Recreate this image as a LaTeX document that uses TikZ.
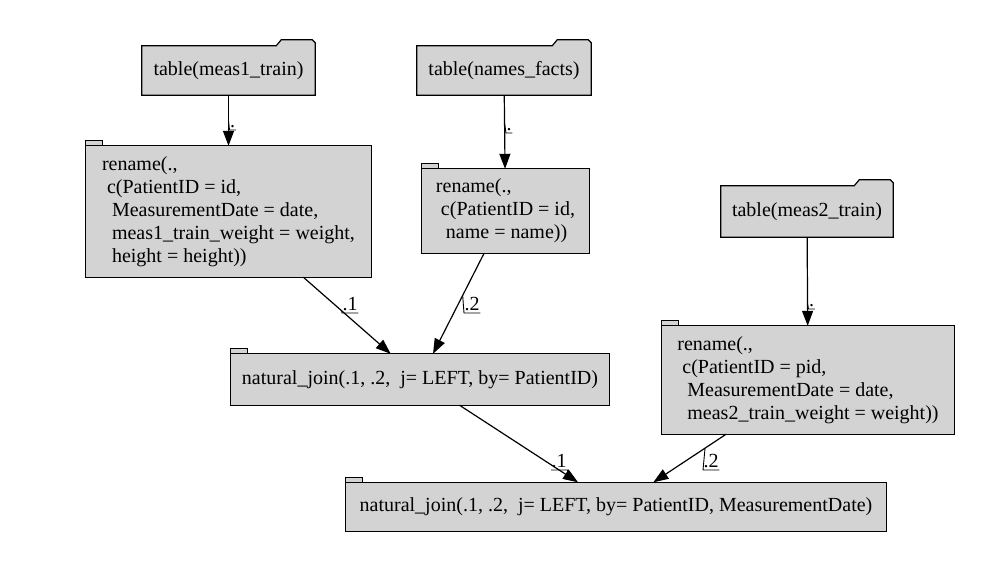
\documentclass[tikz,border=0pt]{standalone}
\usepackage{fontspec}
\setmainfont{Liberation Serif}
\usetikzlibrary{arrows.meta,backgrounds}
\definecolor{boxgray}{HTML}{D3D3D3}
\tikzset{
	opbox/.style={inner sep=0pt, align=left, font=\fontsize{20}{23}\selectfont},
	edgelbl/.style={anchor=south west, inner xsep=0.5pt, inner ysep=2pt, font=\fontsize{20}{23}\selectfont},
	flow/.style={-{Triangle[length=15pt,width=11pt]}, line width=1.2pt},
	outline/.style={fill=boxgray, draw=black, line width=1.2pt},
	deco/.style={line width=0.9pt}
}
\newcommand{\folderoutline}[1]{%
	\filldraw[outline] (#1.south west) -- (#1.north west) -- ([xshift=-39pt]#1.north east)
	-- ([xshift=-34pt,yshift=6pt]#1.north east) -- ([xshift=-3pt,yshift=6pt]#1.north east)
	-- ([yshift=3pt]#1.north east) -- (#1.south east) -- cycle;}
\newcommand{\taboutline}[1]{%
	\filldraw[outline] (#1.south west) rectangle (#1.north east);
	\filldraw[outline] (#1.north west) rectangle ([xshift=17pt,yshift=5pt]#1.north west);}

\begin{document}
\begin{tikzpicture}[x=1pt, y=-1pt]
	\useasboundingbox (0,0) rectangle (1000,580);
	% source tables
	\node[opbox, minimum width=173pt, minimum height=49pt] (tb1) at (228.5,70.5) {table(meas1\_train)};
	\node[opbox, minimum width=174pt, minimum height=49pt] (tb2) at (504,70.5) {table(names\_facts)};
	\node[opbox, minimum width=172pt, minimum height=51pt] (tb3) at (807,211.5) {table(meas2\_train)};
	% renames
	\node[opbox, minimum width=285pt, minimum height=131pt] (rn1) at (228.5,211.5)
		{rename(.,\\\ c(PatientID = id,\\\ \ MeasurementDate = date,\\\ \ meas1\_train\_weight = weight,\\\ \ height = height))};
	\node[opbox, minimum width=167pt, minimum height=84pt] (rn2) at (505.5,211)
		{rename(.,\\\ c(PatientID = id,\\\ \ name = name))};
	\node[opbox, minimum width=292pt, minimum height=108pt] (rn3) at (808,380)
		{rename(.,\\\ c(PatientID = pid,\\\ \ MeasurementDate = date,\\\ \ meas2\_train\_weight = weight))};
	% joins
	\node[opbox, minimum width=378pt, minimum height=51pt] (nj1) at (420,379.5)
		{natural\_join(.1, .2,\ \ j= LEFT, by= PatientID)};
	\node[opbox, minimum width=540pt, minimum height=49pt] (nj2) at (616,507)
		{natural\_join(.1, .2,\ \ j= LEFT, by= PatientID, MeasurementDate)};

	\begin{scope}[on background layer]
		\folderoutline{tb1}
		\folderoutline{tb2}
		\folderoutline{tb3}
		\taboutline{rn1}
		\taboutline{rn2}
		\taboutline{rn3}
		\taboutline{nj1}
		\taboutline{nj2}
	\end{scope}

	\draw[flow] (tb1) -- coordinate[pos=0.5] (m1) (rn1);
	\draw[flow] (tb2) -- coordinate[pos=0.38] (m2) (rn2);
	\draw[flow] (tb3) -- coordinate[pos=0.75] (m3) (rn3);
	\draw[flow] (rn1) -- coordinate[pos=0.44] (m4) (nj1);
	\draw[flow] (rn2) -- coordinate[pos=0.42] (m5) (nj1);
	\draw[flow] (nj1) -- coordinate[pos=0.93] (m6) (nj2);
	\draw[flow] (rn3) -- coordinate[pos=0.29] (m7) (nj2);

	% edge labels
	\node[edgelbl] (l1) at (229.5,130) {.};
	\node[edgelbl] (l2) at (506,133) {.};
	\node[edgelbl] (l3) at (808.5,309) {.};
	\node[edgelbl] (l4) at (342,313) {.1};
	\node[edgelbl] (l5) at (464,313) {.2};
	\node[edgelbl] (l6) at (551,470) {.1};
	\node[edgelbl] (l7) at (703,470) {.2};
	\draw[deco] (m1) -- (l1.south west) -- (l1.south east);
	\draw[deco] (m2) -- (l2.south west) -- (l2.south east);
	\draw[deco] (m3) -- (l3.south west) -- (l3.south east);
	\draw[deco] (m4) -- (l4.south west) -- (l4.south east);
	\draw[deco] (m5) -- (l5.south west) -- (l5.south east);
	\draw[deco] (l6.south west) -- (l6.south east) -- (m6);
	\draw[deco] (m7) -- (l7.south west) -- (l7.south east);
\end{tikzpicture}
\end{document}
